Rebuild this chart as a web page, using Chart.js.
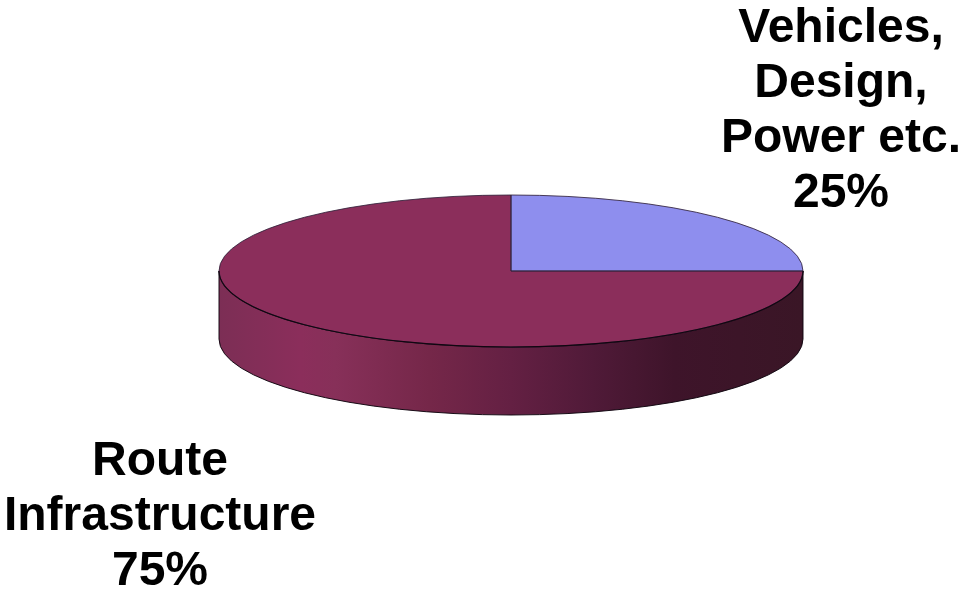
<!DOCTYPE html>
<html>
<head>
<meta charset="utf-8">
<style>
html,body{margin:0;padding:0;background:#fff}
canvas{display:block}
</style>
<script src="https://cdn.jsdelivr.net/npm/chart.js@4/dist/chart.umd.min.js"></script>
</head>
<body>
<canvas id="c" width="960" height="590"></canvas>
<script>
const categories = ['Vehicles, Design, Power etc.', 'Route Infrastructure'];
const shares = [25, 75];
const sliceColors = ['#8E8EEE', '#8B2E5B'];
const labelLines = [
  ['Vehicles,', 'Design,', 'Power etc.', '25%'],
  ['Route', 'Infrastructure', '75%']
];

const CY = 271, RY = 76, DEPTH = 68, LINE = 55;
const labelAnchors = [{x: 841, y: 42}, {x: 160, y: 475}];
const wallStops = [
  [0, '#7C2E55'], [0.14, '#8B2E5B'], [0.2, '#873059'], [0.36, '#752749'],
  [0.5, '#642043'], [0.64, '#501A38'], [0.78, '#3E142A'], [1, '#3A1626']
];
const STROKE = 'rgba(50,35,60,0.85)';
const EDGE = 'rgba(15,5,15,0.95)';

function squash(ctx, el) {
  const k = RY / el.outerRadius;
  ctx.translate(0, CY);
  ctx.scale(1, k);
  ctx.translate(0, -el.y);
}

const pie3d = {
  id: 'pie3d',
  beforeDatasetsDraw(chart) {
    const ctx = chart.ctx;
    const arcs = chart.getDatasetMeta(0).data;
    const e0 = arcs[0];
    const r = e0.outerRadius;
    const grad = ctx.createLinearGradient(e0.x - r, 0, e0.x + r, 0);
    wallStops.forEach(s => grad.addColorStop(s[0], s[1]));
    arcs.forEach(el => {
      const a0 = Math.max(el.startAngle, 0), a1 = Math.min(el.endAngle, Math.PI);
      if (a1 <= a0) return;
      ctx.save();
      ctx.beginPath();
      ctx.save(); ctx.translate(0, DEPTH); squash(ctx, el);
      ctx.arc(el.x, el.y, r, a0, a1, false);
      ctx.restore();
      ctx.save(); squash(ctx, el);
      ctx.arc(el.x, el.y, r, a1, a0, true);
      ctx.restore();
      ctx.closePath();
      ctx.fillStyle = grad;
      ctx.fill();
      ctx.lineWidth = 1;
      ctx.strokeStyle = EDGE;
      ctx.stroke();
      ctx.restore();
    });
    ctx.save();
    squash(ctx, e0);
  },
  afterDatasetsDraw(chart) {
    const ctx = chart.ctx;
    ctx.restore();
    const arcs = chart.getDatasetMeta(0).data;
    arcs.forEach(el => {
      ctx.save();
      ctx.beginPath();
      ctx.save(); squash(ctx, el);
      ctx.moveTo(el.x, el.y);
      ctx.arc(el.x, el.y, el.outerRadius, el.startAngle, el.endAngle, false);
      ctx.closePath();
      ctx.restore();
      ctx.lineWidth = 1;
      ctx.strokeStyle = STROKE;
      ctx.stroke();
      const a0 = Math.max(el.startAngle, 0), a1 = Math.min(el.endAngle, Math.PI);
      if (a1 > a0) {
        ctx.beginPath();
        ctx.save(); squash(ctx, el);
        ctx.arc(el.x, el.y, el.outerRadius, a0, a1, false);
        ctx.restore();
        ctx.lineWidth = 1.2;
        ctx.strokeStyle = EDGE;
        ctx.stroke();
      }
      ctx.restore();
    });
    ctx.save();
    ctx.font = 'bold 48px "Liberation Sans", Arial, sans-serif';
    ctx.fillStyle = '#000';
    ctx.textAlign = 'center';
    ctx.textBaseline = 'alphabetic';
    labelLines.forEach((lines, i) => {
      lines.forEach((t, j) => ctx.fillText(t, labelAnchors[i].x, labelAnchors[i].y + j * LINE));
    });
    ctx.restore();
  }
};

new Chart(document.getElementById('c'), {
  type: 'pie',
  data: {
    labels: categories,
    datasets: [{data: shares, backgroundColor: sliceColors, borderWidth: 0}]
  },
  options: {
    responsive: false,
    animation: false,
    events: [],
    layout: {padding: {left: 62, top: 3, bottom: 3, right: 0}},
    plugins: {legend: {display: false}, tooltip: {enabled: false}, title: {display: false}}
  },
  plugins: [pie3d]
});
</script>
</body>
</html>
